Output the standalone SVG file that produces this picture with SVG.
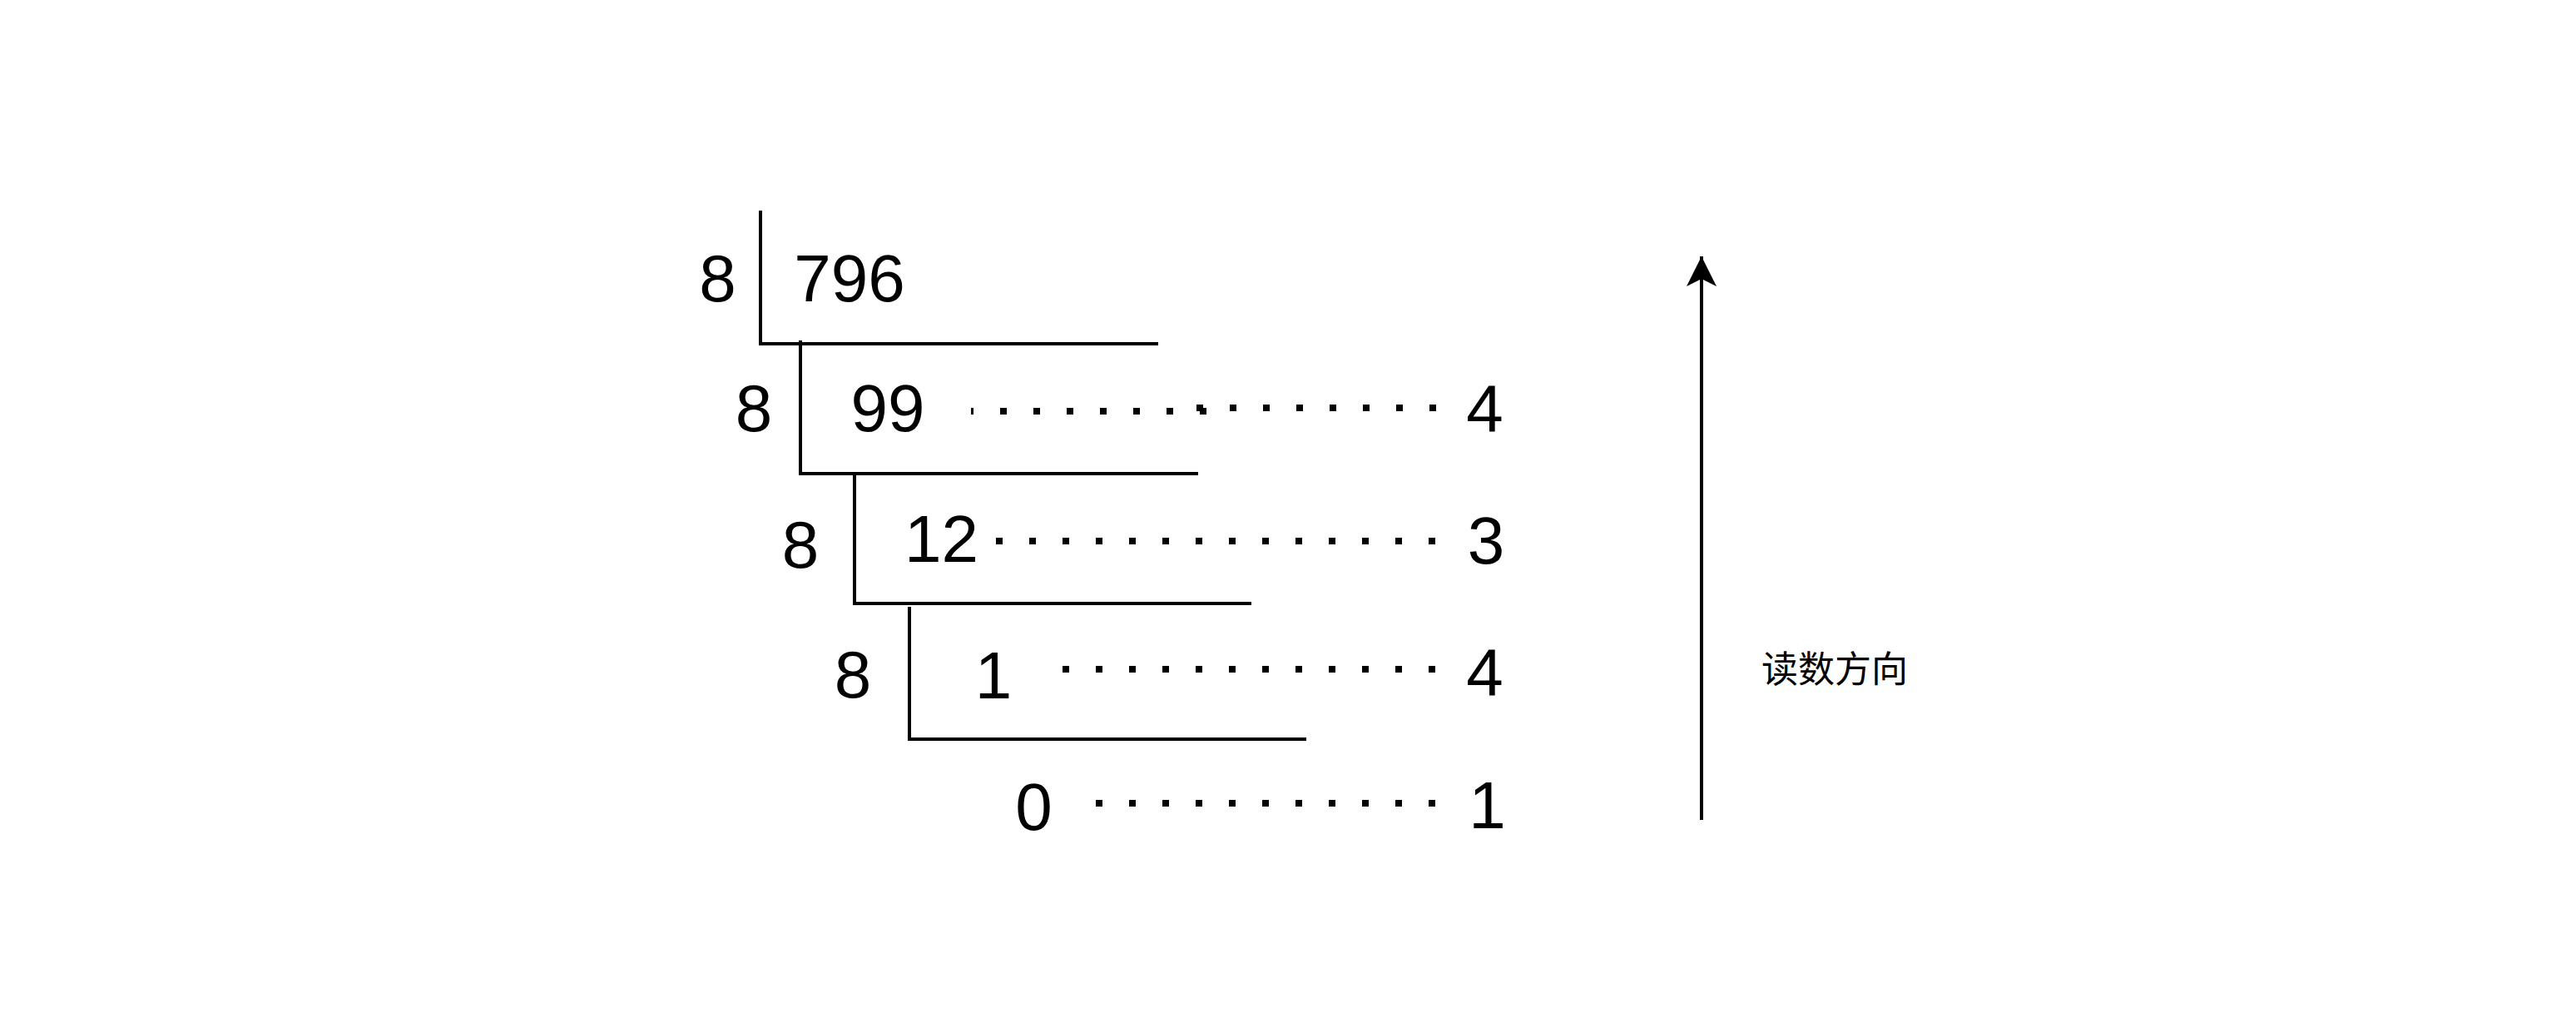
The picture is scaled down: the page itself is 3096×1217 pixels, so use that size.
<svg xmlns="http://www.w3.org/2000/svg" width="3096" height="1217" viewBox="0 0 3096 1217">
<style>
.num{font-family:"Liberation Sans",Arial,sans-serif;font-size:80px;fill:#000;text-anchor:middle}
.cn{font-family:"Noto Sans CJK SC","Noto Sans",sans-serif;font-size:44px;fill:#000;text-anchor:middle}
.ln{stroke:#000;stroke-width:4;fill:none}
.dot{stroke:#000;stroke-width:8;fill:none;stroke-dasharray:8 32}
</style>
<defs>
<marker id="ah" markerUnits="userSpaceOnUse" markerWidth="40" markerHeight="40" viewBox="0 0 40 40" refX="36" refY="20" orient="auto">
<path d="M0,2 L36,20 L0,38 L9,20 Z" fill="#000"/>
</marker>
</defs>
<rect width="3096" height="1217" fill="#fff"/>
<g id="brackets">
<g id="b1"><path class="ln" d="M914,253 V413 H1392"/></g>
<g id="b2"><path class="ln" d="M962,409 V569 H1440"/></g>
<g id="b3"><path class="ln" d="M1027,567 V725 H1504"/></g>
<g id="b4"><path class="ln" d="M1093,729 V888 H1570"/></g>
</g>
<g id="labels">
<g id="r1"><text class="num" x="862.5" y="362">8</text><text class="num" x="1021" y="362">796</text></g>
<g id="r2"><text class="num" x="906" y="518">8</text><text class="num" x="1067" y="518">99</text><text class="num" x="1784.5" y="518">4</text></g>
<g id="r3"><text class="num" x="962" y="682">8</text><text class="num" x="1131.5" y="675">12</text><text class="num" x="1786" y="677">3</text></g>
<g id="r4"><text class="num" x="1025" y="838">8</text><text class="num" x="1194" y="839">1</text><text class="num" x="1784.5" y="835">4</text></g>
<g id="r5"><text class="num" x="1242.5" y="997">0</text><text class="num" x="1787.5" y="995">1</text></g>
<g id="dir"><text class="cn" x="2205" y="820">读数方向</text></g>
</g>
<g id="connectors">
<line class="dot" x1="1167" y1="494" x2="1450" y2="494" stroke-dashoffset="5"/>
<line class="dot" x1="1438" y1="490" x2="1726" y2="490"/>
<line class="dot" x1="1197" y1="650" x2="1726" y2="650"/>
<line class="dot" x1="1277" y1="804" x2="1726" y2="804"/>
<line class="dot" x1="1317" y1="965" x2="1726" y2="965"/>
<line class="ln" x1="2045" y1="985" x2="2045" y2="308" marker-end="url(#ah)"/>
</g>
</svg>
